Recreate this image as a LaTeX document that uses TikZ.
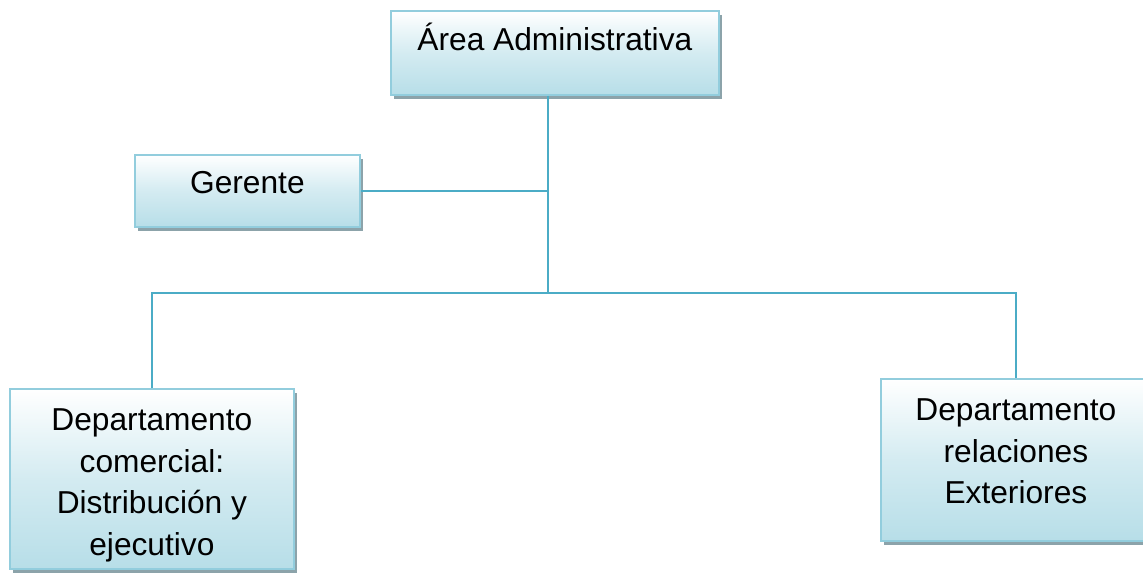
\documentclass[tikz,border=0pt]{standalone}
\usepackage{fontspec}
\setmainfont{Liberation Sans}
\usetikzlibrary{shadows}
\definecolor{linec}{RGB}{75,172,198}
\definecolor{borderc}{RGB}{146,205,221}
\definecolor{fillb}{RGB}{183,222,232}
\definecolor{shadc}{RGB}{140,163,170}
\tikzset{
  orgbox/.style={draw=borderc, line width=1.8pt, top color=white, bottom color=fillb,
    middle color=white!40!fillb,
    drop shadow={shadow xshift=3pt, shadow yshift=-4pt, fill=shadc, opacity=1},
    inner sep=0pt, align=center,
    font=\fontsize{31.7}{41.5}\selectfont},
  conn/.style={draw=linec, line width=2pt}
}
\begin{document}
\begin{tikzpicture}[x=1pt,y=-1pt]
\useasboundingbox (0,0) rectangle (1143,573);
\clip (0,0) rectangle (1143,573);
\node[orgbox, anchor=north west, minimum width=328pt, text height=40pt, text depth=44pt] (adm) at (390,10) {Área Administrativa};
\node[orgbox, anchor=north west, minimum width=225pt, text height=39pt, text depth=33pt] (ger) at (134,154) {Gerente};
\node[orgbox, anchor=north west, minimum width=284pt, minimum height=180pt] (dc) at (9,388)
  {\raisebox{48pt}[0pt][0pt]{\begin{tabular}[t]{@{}c@{}}Departamento\\comercial:\\Distribución y\\ejecutivo\end{tabular}}};
\node[orgbox, anchor=north west, minimum width=270pt, minimum height=162pt] (dr) at (880,378)
  {\raisebox{39pt}[0pt][0pt]{\begin{tabular}[t]{@{}c@{}}Departamento\\relaciones\\Exteriores\end{tabular}}};
\coordinate (j1) at (548,190);
\coordinate (j2) at (548,293);
\draw[conn] (adm.south -| j2) -- (j2);
\draw[conn] (ger.east) -- (ger.east -| j1);
\draw[conn] (dc.north) |- (j2) -| (dr.north);
\end{tikzpicture}
\end{document}
